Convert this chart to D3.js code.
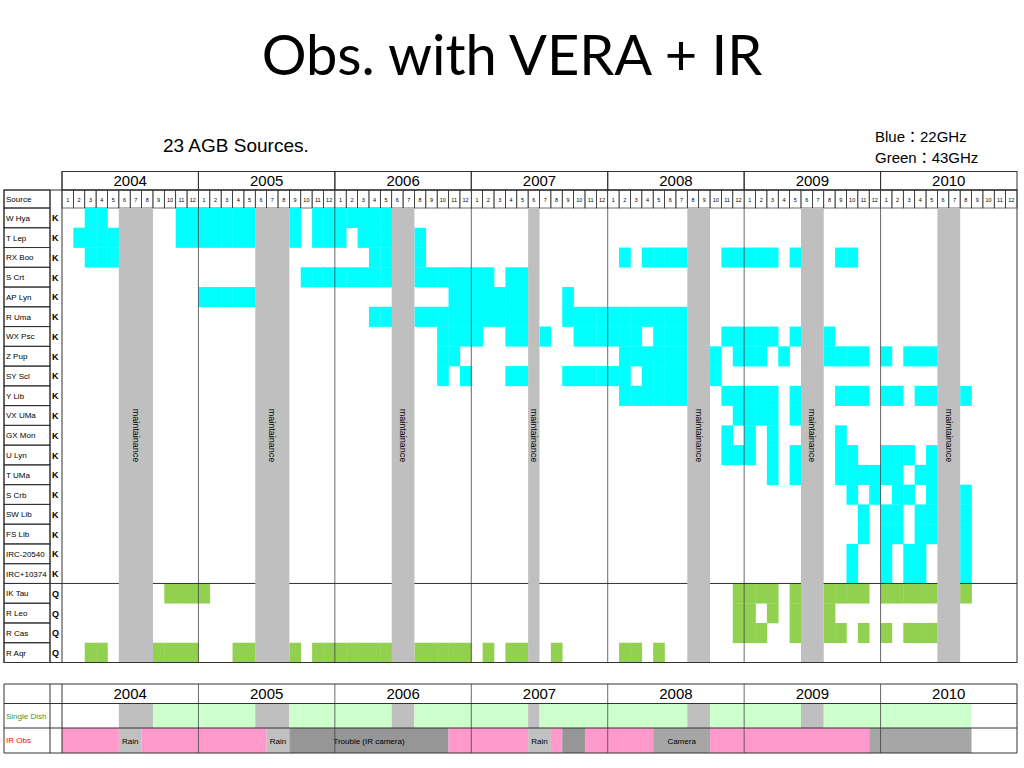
<!DOCTYPE html>
<html lang="en">
<head>
<meta charset="UTF-8">
<title>Obs. with VERA + IR</title>
<script src="https://d3js.org/d3.v7.min.js"></script>
<style>
  body { margin: 0; background: #fff; }
  svg text { font-family: "Liberation Sans", Arial, "Noto Sans CJK JP", sans-serif; fill: #000; }
</style>
</head>
<body>
<script>
// years and month ticks of the header
const years = [2004, 2005, 2006, 2007, 2008, 2009, 2010];
const monthLabels = [1, 2, 3, 4, 5, 6, 7, 8, 9, 10, 11, 12];

// sources (rows) and their band
const sources = ["W Hya", "T Lep", "RX Boo", "S Crt", "AP Lyn", "R Uma", "WX Psc", "Z Pup", "SY Scl",
  "Y Lib", "VX UMa", "GX Mon", "U Lyn", "T UMa", "S Crb", "SW Lib", "FS Lib", "IRC-20540", "IRC+10374",
  "IK Tau", "R Leo", "R Cas", "R Aqr"];
const bands = ["K", "K", "K", "K", "K", "K", "K", "K", "K", "K", "K", "K", "K", "K", "K", "K", "K", "K", "K",
  "Q", "Q", "Q", "Q"];

// observed months per source, month 0 = Jan 2004
const obsMonths = [
  [2, 3, 10, 11, 12, 13, 14, 15, 16, 20, 22, 23, 24, 25, 26, 27, 28],
  [1, 2, 3, 4, 10, 11, 12, 13, 14, 15, 16, 20, 22, 23, 24, 26, 27, 28, 31],
  [2, 3, 4, 27, 28, 31, 49, 51, 52, 53, 54, 58, 59, 60, 61, 62, 64, 68, 69],
  [21, 22, 23, 24, 25, 26, 27, 28, 31, 32, 33, 34, 35, 36, 37, 39, 40],
  [12, 13, 14, 15, 16, 34, 35, 36, 37, 38, 39, 40, 44],
  [27, 28, 31, 32, 33, 34, 35, 36, 37, 38, 39, 40, 44, 45, 46, 47, 48, 49, 50, 51, 52, 53, 54],
  [33, 34, 35, 36, 39, 40, 42, 45, 46, 47, 48, 49, 50, 52, 53, 54, 58, 59, 60, 61, 62, 64, 67],
  [33, 34, 49, 50, 51, 52, 53, 54, 57, 59, 60, 61, 63, 67, 68, 69, 70, 72, 74, 75, 76],
  [33, 35, 39, 40, 44, 45, 46, 47, 48, 49, 51, 52, 53, 54, 57],
  [49, 50, 51, 52, 53, 54, 58, 59, 60, 61, 62, 64, 68, 69, 70, 72, 73, 75, 76, 79],
  [59, 60, 61, 62, 64],
  [58, 60, 62, 68],
  [58, 59, 60, 62, 64, 68, 69, 72, 73, 74, 76],
  [62, 64, 68, 69, 70, 71, 72, 73, 75, 76],
  [69, 71, 73, 74, 76, 79],
  [70, 72, 73, 75, 76, 79],
  [70, 72, 73, 75, 76, 79],
  [69, 72, 74, 75, 79],
  [69, 72, 74, 75, 79],
  [9, 10, 11, 12, 59, 60, 61, 62, 64, 67, 68, 69, 70, 72, 73, 74, 75, 76, 79],
  [59, 60, 62, 64, 67],
  [59, 60, 61, 64, 67, 68, 70, 72, 74, 75, 76],
  [2, 3, 8, 9, 10, 11, 15, 16, 20, 22, 23, 24, 25, 26, 27, 28, 31, 32, 33, 34, 35, 37, 39, 40, 43, 49, 50, 52]
];

// maintenance periods [first month, last month]
const maintenance = [[5, 7], [17, 19], [29, 30], [41, 41], [55, 56], [65, 66], [77, 78]];

// single dish runs [first, last, kind]
const singleDish = [[5, 7, "stop"], [8, 16, "ok"], [17, 19, "stop"], [20, 28, "ok"], [29, 30, "stop"],
  [31, 40, "ok"], [41, 41, "stop"], [42, 54, "ok"], [55, 56, "stop"], [57, 64, "ok"], [65, 66, "stop"], [67, 79, "ok"]];

// IR runs [first, last, kind, label]
const irRuns = [[0, 4, "ok", ""], [5, 6, "rain", "Rain"], [7, 17, "ok", ""], [18, 19, "rain", "Rain"],
  [20, 33, "trouble", "Trouble (IR camera)"], [34, 40, "ok", ""], [41, 42, "rain", "Rain"], [43, 43, "ok", ""],
  [44, 45, "trouble", ""], [46, 51, "ok", ""], [52, 56, "camera", "Camera"], [57, 70, "ok", ""], [71, 79, "camera", ""]];

const bandColor = { K: "#00ffff", Q: "#92d050" };
const dishColor = { ok: "#ccffcc", stop: "#bfbfbf" };
const irColor = { ok: "#ff99cc", rain: "#c0c0c0", trouble: "#969696", camera: "#a6a6a6" };
const lineCol = "#333";

const svg = d3.select("body").append("svg").attr("width", 1024).attr("height", 768);

const x = d3.scaleLinear().domain([0, years.length * 12]).range([62, 1017]);
const y = d3.scaleBand().domain(sources).range([208, 662.5]);
const colL = 4, colB = 50, colG = 62, right = 1017;

// title and notes
svg.append("text").attr("x", 512).attr("y", 75).attr("text-anchor", "middle")
  .style("font-family", "Lato, 'Open Sans', sans-serif").style("font-size", "56px").text("Obs. with VERA + IR");
svg.append("text").attr("x", 163).attr("y", 152).style("font-size", "19px").text("23 AGB Sources.");
svg.append("text").attr("x", 875).attr("y", 142).style("font-size", "15px").text("Blue：22GHz");
svg.append("text").attr("x", 875).attr("y", 163).style("font-size", "15px").text("Green：43GHz");

// ---- main table ----
const hdr = svg.append("g");
hdr.selectAll("rect.year").data(years).enter().append("rect")
  .attr("x", (d, i) => x(i * 12)).attr("y", 171.5).attr("width", x(12) - x(0)).attr("height", 18.5)
  .attr("fill", "none").attr("stroke", lineCol);
hdr.selectAll("text.year").data(years).enter().append("text")
  .attr("x", (d, i) => x(i * 12 + 6)).attr("y", 186).attr("text-anchor", "middle")
  .style("font-size", "15px").text(d => d);

const months = d3.range(years.length * 12);
hdr.selectAll("rect.month").data(months).enter().append("rect")
  .attr("x", d => x(d)).attr("y", 190).attr("width", x(1) - x(0)).attr("height", 18)
  .attr("fill", "none").attr("stroke", lineCol).attr("stroke-width", 0.7);
hdr.selectAll("text.month").data(months).enter().append("text")
  .attr("x", d => x(d + 0.5)).attr("y", 201.5).attr("text-anchor", "middle")
  .style("font-size", "5.5px").text(d => monthLabels[d % 12]);
hdr.append("rect").attr("x", colL).attr("y", 190).attr("width", colB - colL).attr("height", 18)
  .attr("fill", "none").attr("stroke", lineCol);
hdr.append("text").attr("x", colL + 2).attr("y", 202).style("font-size", "8px").text("Source");

// source label cells
const lab = svg.append("g");
lab.selectAll("rect").data(sources).enter().append("rect")
  .attr("x", colL).attr("y", d => y(d)).attr("width", colB - colL).attr("height", y.bandwidth())
  .attr("fill", "none").attr("stroke", lineCol);
lab.selectAll("text.src").data(sources).enter().append("text")
  .attr("x", colL + 2).attr("y", d => y(d) + y.bandwidth() / 2 + 3).style("font-size", "8px").text(d => d);
lab.selectAll("text.band").data(sources).enter().append("text")
  .attr("x", colB + 2).attr("y", d => y(d) + y.bandwidth() / 2 + 3.5)
  .style("font-size", "9px").style("font-weight", "bold").text((d, i) => bands[i]);

// observation cells
const cells = [];
obsMonths.forEach((ms, r) => ms.forEach(m => cells.push({ src: sources[r], band: bands[r], m })));
svg.append("g").selectAll("rect").data(cells).enter().append("rect")
  .attr("x", d => x(d.m)).attr("y", d => y(d.src))
  .attr("width", x(1) - x(0) + 0.3).attr("height", y.bandwidth() + 0.3)
  .attr("fill", d => bandColor[d.band]);

// grid lines
const grid = svg.append("g");
grid.selectAll("line.yr").data(years.slice(1)).enter().append("line")
  .attr("x1", (d, i) => x((i + 1) * 12)).attr("x2", (d, i) => x((i + 1) * 12))
  .attr("y1", 208).attr("y2", 662.5).attr("stroke", "#444").attr("stroke-width", 0.8);
grid.append("line").attr("x1", colB).attr("x2", right)
  .attr("y1", y("IK Tau")).attr("y2", y("IK Tau")).attr("stroke", lineCol);

// maintenance bands
const mt = svg.append("g");
mt.selectAll("rect").data(maintenance).enter().append("rect")
  .attr("x", d => x(d[0])).attr("y", 208).attr("width", d => x(d[1] + 1) - x(d[0])).attr("height", 454.5)
  .attr("fill", "#bfbfbf");
mt.selectAll("text").data(maintenance).enter().append("text")
  .attr("transform", d => `translate(${x((d[0] + d[1] + 1) / 2) - 3},435.5) rotate(90)`)
  .attr("text-anchor", "middle").style("font-size", "9px").text("maintainance");

// outer borders
svg.append("rect").attr("x", colL).attr("y", 190).attr("width", right - colL).attr("height", 472.5)
  .attr("fill", "none").attr("stroke", lineCol);
svg.append("line").attr("x1", colB).attr("x2", colB).attr("y1", 190).attr("y2", 662.5).attr("stroke", lineCol);
svg.append("line").attr("x1", colG).attr("x2", colG).attr("y1", 171.5).attr("y2", 662.5).attr("stroke", lineCol);

// ---- lower table ----
const low = svg.append("g");
const rowTop = 684, rowDish = 703.5, rowIR = 728, rowEnd = 753;
low.selectAll("rect.dish").data(singleDish).enter().append("rect")
  .attr("x", d => x(d[0])).attr("y", rowDish).attr("width", d => x(d[1] + 1) - x(d[0])).attr("height", rowIR - rowDish)
  .attr("fill", d => dishColor[d[2]]);
low.selectAll("rect.ir").data(irRuns).enter().append("rect")
  .attr("x", d => x(d[0])).attr("y", rowIR).attr("width", d => x(d[1] + 1) - x(d[0])).attr("height", rowEnd - rowIR)
  .attr("fill", d => irColor[d[2]]);
low.selectAll("text.ir").data(irRuns.filter(d => d[3])).enter().append("text")
  .attr("x", d => x((d[0] + d[1] + 1) / 2)).attr("y", rowIR + 16).attr("text-anchor", "middle")
  .style("font-size", "8px").text(d => d[3]);
low.selectAll("text.year").data(years).enter().append("text")
  .attr("x", (d, i) => x(i * 12 + 6)).attr("y", 699).attr("text-anchor", "middle")
  .style("font-size", "15px").text(d => d);
low.selectAll("line.yr").data(years.slice(1)).enter().append("line")
  .attr("x1", (d, i) => x((i + 1) * 12)).attr("x2", (d, i) => x((i + 1) * 12))
  .attr("y1", rowTop).attr("y2", rowEnd).attr("stroke", "#444").attr("stroke-width", 0.8);
[rowTop, rowDish, rowIR, rowEnd].forEach(v => {
  low.append("line").attr("x1", colL).attr("x2", right).attr("y1", v).attr("y2", v).attr("stroke", lineCol);
});
[colL, colB, colG, right].forEach(v => {
  low.append("line").attr("x1", v).attr("x2", v).attr("y1", rowTop).attr("y2", rowEnd).attr("stroke", lineCol);
});
low.append("text").attr("x", colL + 2).attr("y", rowDish + 15).style("font-size", "8px")
  .style("fill", "#339933").text("Single Dish");
low.append("text").attr("x", colL + 2).attr("y", rowIR + 15).style("font-size", "8px")
  .style("fill", "#ff0000").text("IR Obs");
</script>
</body>
</html>
